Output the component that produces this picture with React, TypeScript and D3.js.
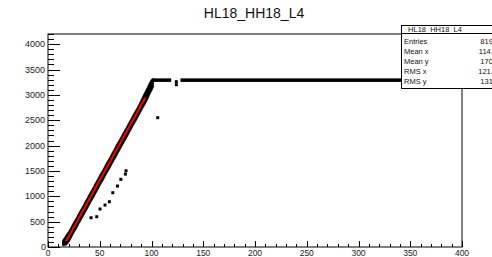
import React, { useEffect, useRef } from 'react';
import * as d3 from 'd3';

// diagonal band, sampled every 2 units of x: lower and upper edge
const bandX = [14, 16, 18, 20, 22, 24, 26, 28, 30, 32, 34, 36, 38, 40, 42, 44, 46, 48, 50, 52, 54, 56, 58, 60, 62, 64, 66, 68, 70, 72, 74, 76, 78, 80, 82, 84, 86, 88, 90, 92, 94, 96, 98, 100, 102];
const bandLow = [30, 30, 40, 90, 160, 240, 310, 380, 460, 530, 600, 680, 750, 830, 900, 970, 1050, 1120, 1200, 1270, 1340, 1420, 1490, 1560, 1640, 1710, 1780, 1860, 1930, 2010, 2080, 2150, 2230, 2300, 2380, 2450, 2520, 2600, 2670, 2750, 2820, 2900, 2990, 3070, 3160];
const bandHigh = [130, 190, 250, 310, 380, 460, 530, 600, 680, 750, 820, 900, 970, 1050, 1120, 1190, 1270, 1340, 1420, 1490, 1560, 1640, 1710, 1780, 1860, 1930, 2010, 2080, 2150, 2230, 2300, 2370, 2450, 2520, 2600, 2670, 2740, 2820, 2900, 2990, 3070, 3150, 3240, 3310, 3325];

// saturation plateau segments
const plateauStart = [101, 128];
const plateauEnd = [119, 400];
const plateauLow = 3255;
const plateauHigh = 3325;

// isolated entries
const strayX = [41.6, 47.1, 50.3, 55.1, 59.3, 62.6, 67.1, 70.4, 74.8, 75.4, 106, 124, 124];
const strayY = [577, 597, 749, 827, 893, 1070, 1202, 1334, 1438, 1503, 2550, 3200, 3260];

// linear fit
const fitX = [17.5, 94];
const fitY = [115, 2945];

const yMajor = [0, 500, 1000, 1500, 2000, 2500, 3000, 3500, 4000];
const xMajor = [0, 50, 100, 150, 200, 250, 300, 350, 400];

const statLabels = ['Entries', 'Mean x', 'Mean y', 'RMS x', 'RMS y'];
const statValues = ['8192', '114.5', '1703', '121.6', '1314'];
const histName = 'HL18_HH18_L4';

const font = '"Liberation Sans", Arial, Helvetica, sans-serif';

const App = () => {
  const ref = useRef<SVGSVGElement>(null);

  useEffect(() => {
    const svg = d3.select(ref.current);
    svg.selectAll('*').remove();

    const x = d3.scaleLinear().domain([0, 400]).range([48, 462]);
    const y = d3.scaleLinear().domain([0, 4200]).range([247, 34]);

    svg.append('rect').attr('width', 492).attr('height', 257).attr('fill', 'white');

    // band
    const area = d3
      .area<number>()
      .x((d) => x(d))
      .y0((_, i) => y(bandLow[i]))
      .y1((_, i) => y(bandHigh[i]));
    svg
      .append('path')
      .attr('d', area(bandX))
      .attr('fill', 'black')
      .attr('stroke', 'black')
      .attr('stroke-width', 0.8);

    svg
      .append('g')
      .selectAll('rect')
      .data(plateauStart)
      .enter()
      .append('rect')
      .attr('x', (d) => x(d))
      .attr('width', (d, i) => x(plateauEnd[i]) - x(d))
      .attr('y', y(plateauHigh))
      .attr('height', y(plateauLow) - y(plateauHigh))
      .attr('fill', 'black');

    svg
      .append('g')
      .selectAll('rect')
      .data(strayX)
      .enter()
      .append('rect')
      .attr('x', (d) => x(d) - 1.5)
      .attr('y', (_, i) => y(strayY[i]) - 1.5)
      .attr('width', 3)
      .attr('height', 3)
      .attr('fill', 'black');

    const line = d3
      .line<number>()
      .x((d) => x(d))
      .y((_, i) => y(fitY[i]));
    svg
      .append('path')
      .attr('d', line(fitX))
      .attr('stroke', '#ff0000')
      .attr('stroke-width', 2)
      .attr('fill', 'none');

    // frame
    svg
      .append('rect')
      .attr('x', 48)
      .attr('y', 34)
      .attr('width', 414)
      .attr('height', 213)
      .attr('fill', 'none')
      .attr('stroke', 'black')
      .attr('stroke-width', 1);

    // y ticks
    const yMinor = d3.range(0, 4201, 100);
    svg
      .append('g')
      .selectAll('line')
      .data(yMinor)
      .enter()
      .append('line')
      .attr('x1', 48)
      .attr('x2', (d) => (d % 500 === 0 ? 60 : 54))
      .attr('y1', (d) => Math.round(y(d)) + 0.5)
      .attr('y2', (d) => Math.round(y(d)) + 0.5)
      .attr('stroke', 'black');

    svg
      .append('g')
      .attr('font-family', font)
      .attr('font-size', 9)
      .attr('text-anchor', 'end')
      .attr('fill', '#222')
      .selectAll('text')
      .data(yMajor)
      .enter()
      .append('text')
      .attr('x', (d) => (d === 0 ? 46 : 45))
      .attr('y', (d) => y(d) + 3)
      .text((d) => d);

    // x ticks
    const xMinor = d3.range(0, 401, 10);
    svg
      .append('g')
      .selectAll('line')
      .data(xMinor)
      .enter()
      .append('line')
      .attr('x1', (d) => Math.round(x(d)) + 0.5)
      .attr('x2', (d) => Math.round(x(d)) + 0.5)
      .attr('y1', 247)
      .attr('y2', (d) => (d % 50 === 0 ? 241 : 244))
      .attr('stroke', 'black');

    svg
      .append('g')
      .attr('font-family', font)
      .attr('font-size', 8.5)
      .attr('text-anchor', 'middle')
      .attr('fill', '#222')
      .selectAll('text')
      .data(xMajor)
      .enter()
      .append('text')
      .attr('x', (d) => x(d))
      .attr('y', 256)
      .text((d) => d);

    // title
    svg
      .append('text')
      .attr('x', 254)
      .attr('y', 18)
      .attr('text-anchor', 'middle')
      .attr('font-family', font)
      .attr('font-size', 14)
      .attr('fill', '#111')
      .text(histName);

    // stats box, its right side runs past the canvas as in the original
    const box = svg.append('g').attr('font-family', font).attr('font-size', 7.5).attr('fill', '#111');
    box
      .append('rect')
      .attr('x', 401.5)
      .attr('y', 25.5)
      .attr('width', 120)
      .attr('height', 63)
      .attr('fill', 'white')
      .attr('stroke', 'black');
    box
      .append('line')
      .attr('x1', 401.5)
      .attr('x2', 521)
      .attr('y1', 33.5)
      .attr('y2', 33.5)
      .attr('stroke', 'black');
    box
      .append('text')
      .attr('x', 435)
      .attr('y', 32)
      .attr('text-anchor', 'middle')
      .text(histName);
    box
      .selectAll('text.lab')
      .data(statLabels)
      .enter()
      .append('text')
      .attr('class', 'lab')
      .attr('x', 404)
      .attr('y', (_, i) => 44 + i * 10)
      .text((d) => d);
    box
      .selectAll('text.val')
      .data(statValues)
      .enter()
      .append('text')
      .attr('class', 'val')
      .attr('x', 497)
      .attr('y', (_, i) => 44 + i * 10)
      .attr('text-anchor', 'end')
      .text((d) => d);
  }, []);

  return (
    <svg
      ref={ref}
      width={492}
      height={257}
      style={{ position: 'fixed', left: 0, top: 0, display: 'block' }}
    />
  );
};

export default App;
